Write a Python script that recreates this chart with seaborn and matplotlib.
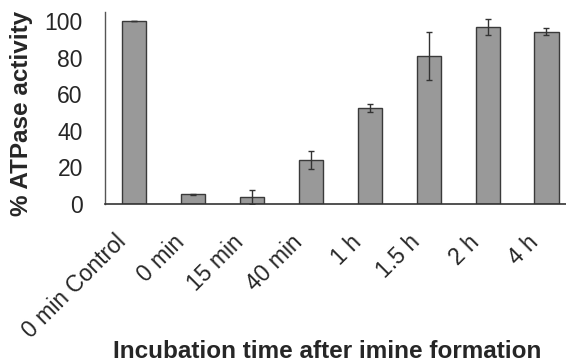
import matplotlib
matplotlib.use("Agg")
import matplotlib.pyplot as plt
import matplotlib.transforms as mtransforms
import seaborn as sns
import pandas as pd

# data
labels = ["0 min Control", "0 min", "15 min", "40 min", "1 h", "1.5 h", "2 h", "4 h"]
activity = [100, 5.2, 4, 24, 52.5, 81, 97, 94.3]
err = [0, 0.4, 3.8, 5, 2, 13, 4.3, 1.8]

sns.set_style("white")
plt.rcParams['font.family'] = ['Liberation Sans', 'DejaVu Sans']

df = pd.DataFrame({"time": labels, "activity": activity})

fig = plt.figure(figsize=(5.66, 3.62), dpi=100)
ax = fig.add_axes([0.1855, 0.4365, 0.832, 0.530])

sns.barplot(data=df, x="time", y="activity", order=labels, color="#999999",
            edgecolor="#3a3a3a", linewidth=1.0, width=0.41, saturation=1, ax=ax)
ax.errorbar(range(len(labels)), activity, yerr=err, fmt="none",
            ecolor="#333333", elinewidth=1.0, capsize=2.5, capthick=1.0)

ax.set_xlim(-0.5, 7.5)
ax.set_ylim(0, 105)
ax.set_yticks([0, 20, 40, 60, 80, 100])
ax.set_xticks(range(len(labels)))
ax.set_xticklabels(labels, rotation=45, ha="right", rotation_mode="anchor", fontsize=16.5)
ax.tick_params(axis="y", labelsize=16.5, length=6, color="#bbbbbb", direction="out", pad=10)
ax.tick_params(axis="x", pad=9)
ax.set_xticks([i - 0.5 for i in range(len(labels) + 1)], minor=True)
ax.tick_params(axis="x", which="minor", length=5, color="#bbbbbb")
ax.tick_params(axis="x", which="major", length=0)

# nudge the rotated labels left/down like the original
shift = mtransforms.ScaledTranslation(-0.20, -0.14, fig.dpi_scale_trans)
for lbl in ax.get_xticklabels():
    lbl.set_transform(lbl.get_transform() + shift)

for s in ["top", "right"]:
    ax.spines[s].set_visible(False)
ax.spines["left"].set_color("#555555")
ax.spines["bottom"].set_color("#333333")
ax.spines["left"].set_linewidth(1.0)
ax.spines["bottom"].set_linewidth(1.2)

ax.set_ylabel("% ATPase activity", fontsize=17.5, fontweight="bold")
ax.yaxis.set_label_coords(-0.153, 0.474)
ax.set_xlabel("Incubation time after imine formation", fontsize=17.5, fontweight="bold")
ax.xaxis.set_label_coords(0.471, -0.71)

fig.savefig("out.png", dpi=100)
